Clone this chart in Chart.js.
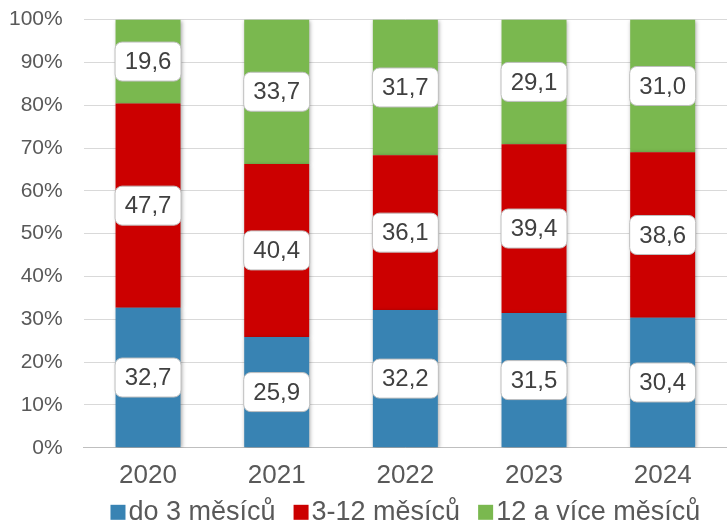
<!DOCTYPE html>
<html>
<head>
<meta charset="utf-8">
<script src="https://cdn.jsdelivr.net/npm/chart.js@4"></script>
<style>
  html, body { margin: 0; padding: 0; background: #fff; overflow: hidden; }
  #wrap { width: 727px; height: 536px; margin-top: -14px; }
</style>
</head>
<body>
<div id="wrap"><canvas id="chart"></canvas></div>
<script>
const years = ['2020', '2021', '2022', '2023', '2024'];
const upTo3 = [32.7, 25.9, 32.2, 31.5, 30.4];
const from3to12 = [47.7, 40.4, 36.1, 39.4, 38.6];
const over12 = [19.6, 33.7, 31.7, 29.1, 31.0];
const seriesNames = ['do 3 měsíců', '3-12 měsíců', '12 a více měsíců'];
const colors = ['#3883b3', '#cc0000', '#7ab84f'];

const FONT = '"Liberation Sans", Arial, sans-serif';
const CLEAR = 'rgba(0,0,0,0)';

// shadow under the bars
const barShadow = {
  id: 'barShadow',
  beforeDatasetsDraw(chart) {
    const ctx = chart.ctx;
    ctx.save();
    ctx.shadowColor = 'rgba(0,0,0,0.35)';
    ctx.shadowBlur = 4;
    ctx.shadowOffsetX = 1;
    ctx.shadowOffsetY = 1;
  },
  afterDatasetsDraw(chart) {
    chart.ctx.restore();
  }
};

// white rounded boxes with the value in the middle of each segment
const boxLabels = {
  id: 'boxLabels',
  afterDatasetsDraw(chart) {
    const ctx = chart.ctx;
    ctx.save();
    ctx.font = '24px ' + FONT;
    ctx.textAlign = 'center';
    ctx.textBaseline = 'middle';
    chart.data.datasets.forEach((ds, i) => {
      const meta = chart.getDatasetMeta(i);
      meta.data.forEach((bar, j) => {
        const cx = bar.x;
        const cy = (bar.y + bar.base) / 2;
        const txt = ds.data[j].toFixed(1).replace('.', ',');
        const w = 66, h = 39;
        ctx.beginPath();
        ctx.roundRect(cx - w / 2, cy - h / 2, w, h, 7);
        ctx.fillStyle = '#fff';
        ctx.fill();
        ctx.lineWidth = 1;
        ctx.strokeStyle = '#bfbfbf';
        ctx.stroke();
        ctx.fillStyle = '#404040';
        ctx.fillText(txt, cx, cy + 1);
      });
    });
    ctx.restore();
  }
};

// legend drawn by hand: tighter box-to-text gap than the built-in one
const tightLegend = {
  id: 'tightLegend',
  afterDraw(chart) {
    const ctx = chart.ctx;
    const area = chart.chartArea;
    const box = 15, gap = 3, itemGap = 18;
    ctx.save();
    ctx.font = '27px ' + FONT;
    ctx.textBaseline = 'middle';
    ctx.textAlign = 'left';
    const widths = seriesNames.map(s => ctx.measureText(s).width);
    const total = widths.reduce((a, w) => a + box + gap + w, 0) + itemGap * (seriesNames.length - 1);
    let x = (area.left + area.right) / 2 - total / 2;
    const y = area.bottom + 64.5;
    seriesNames.forEach((s, i) => {
      ctx.fillStyle = colors[i];
      ctx.fillRect(x, y - box / 2, box, box);
      x += box + gap;
      ctx.fillStyle = '#595959';
      ctx.fillText(s, x, y);
      x += widths[i] + itemGap;
    });
    ctx.restore();
  }
};

new Chart(document.getElementById('chart'), {
  type: 'bar',
  data: {
    labels: years,
    datasets: [
      { label: seriesNames[0], data: upTo3, backgroundColor: colors[0] },
      { label: seriesNames[1], data: from3to12, backgroundColor: colors[1] },
      { label: seriesNames[2], data: over12, backgroundColor: colors[2] }
    ]
  },
  options: {
    responsive: true,
    maintainAspectRatio: false,
    animation: false,
    layout: { padding: { top: 0, right: 0, left: -12, bottom: -13 } },
    datasets: { bar: { categoryPercentage: 1, barPercentage: 0.505 } },
    plugins: {
      tooltip: { enabled: false },
      // built-in legend only keeps the space; it is painted invisible
      legend: {
        position: 'bottom',
        fullSize: false,
        labels: {
          boxWidth: 15, boxHeight: 15, padding: 3,
          color: CLEAR,
          font: { size: 27, family: FONT },
          generateLabels: chart => chart.data.datasets.map((ds, i) => ({
            text: ds.label, fillStyle: CLEAR, strokeStyle: CLEAR, fontColor: CLEAR,
            lineWidth: 0, datasetIndex: i, hidden: false
          }))
        }
      }
    },
    scales: {
      x: {
        stacked: true,
        grid: { display: false },
        border: { color: '#bfbfbf' },
        ticks: { color: '#595959', font: { size: 26, family: FONT }, padding: 4 }
      },
      y: {
        stacked: true,
        min: 0, max: 100,
        grid: { color: '#d9d9d9', drawTicks: false },
        border: { display: false },
        ticks: {
          stepSize: 10,
          padding: 21,
          color: '#595959',
          font: { size: 21, family: FONT },
          callback: v => v + '%'
        }
      }
    }
  },
  plugins: [barShadow, boxLabels, tightLegend]
});
</script>
</body>
</html>
